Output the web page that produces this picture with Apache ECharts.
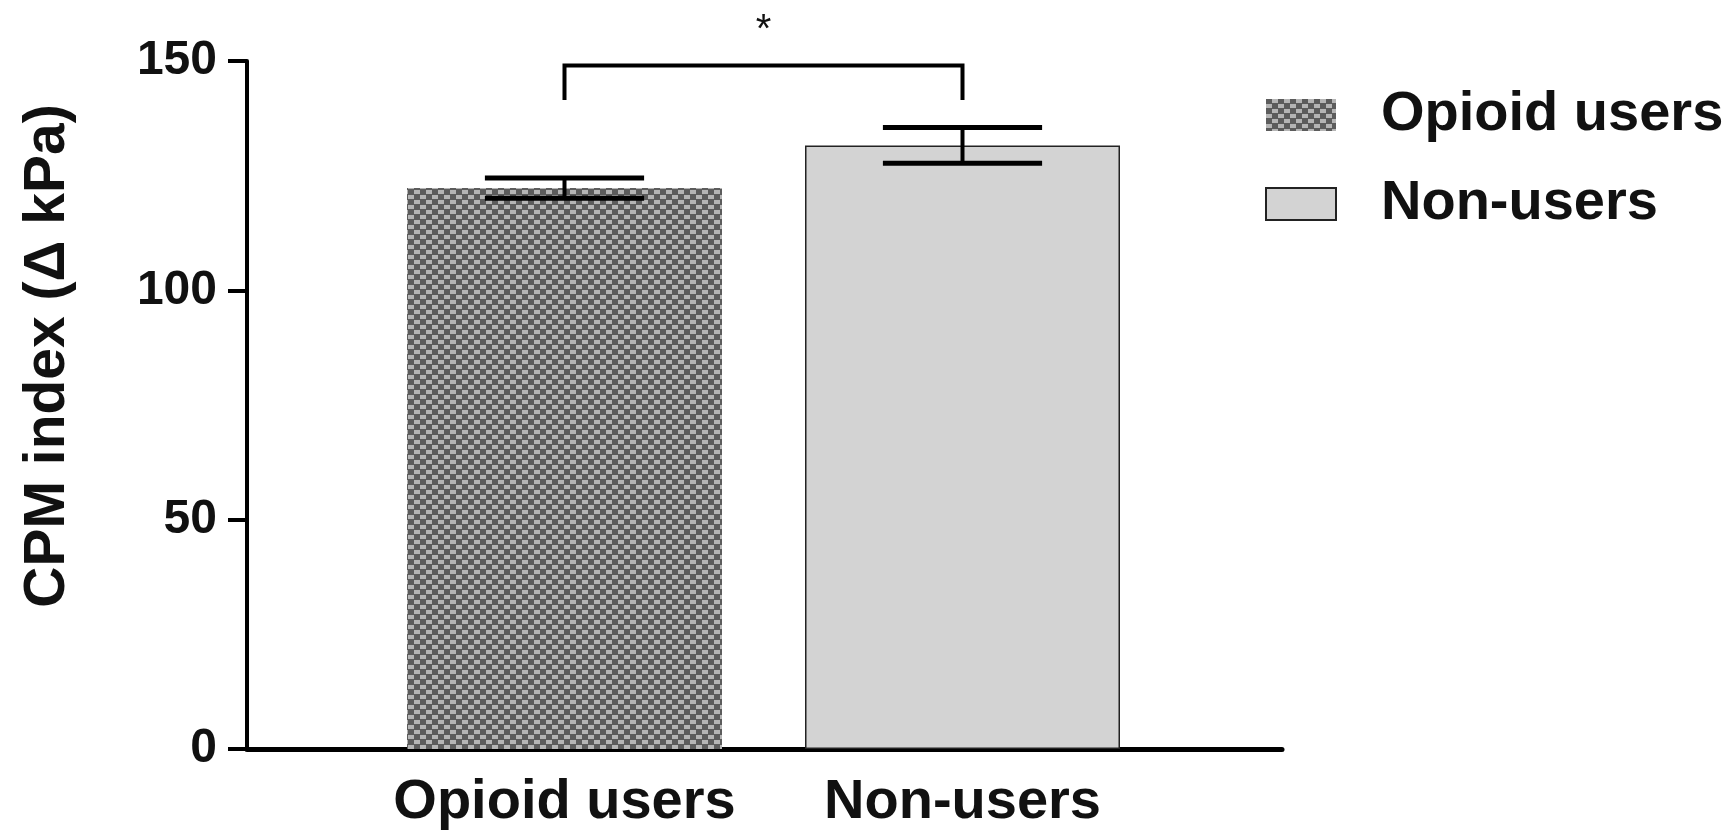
<!DOCTYPE html>
<html>
<head>
<meta charset="utf-8">
<script src="https://cdn.jsdelivr.net/npm/echarts@6/dist/echarts.min.js"></script>
<style>
  html, body { margin: 0; padding: 0; background: #ffffff; }
  #chart { width: 1736px; height: 835px; }
</style>
</head>
<body>
<div id="chart"></div>
<script>
// data
const categories = ['Opioid users', 'Non-users'];
const meanValues = [122.3, 131.6];
const semValues = [2.2, 3.9];
const yTicks = [0, 50, 100, 150];
// significance bracket: [top level, leg bottom], star above it
const bracketLevels = [149, 141.5];
const starLevel = 156.5;
const starText = '*';

const FONT = "'Liberation Sans', Arial, Helvetica, sans-serif";

const chart = echarts.init(document.getElementById('chart'));

// checker pattern for the opioid bar (grey basket weave)
const weave = {
  symbol: 'rect',
  symbolSize: 1,
  color: 'rgba(185,185,185,0.95)',
  dashArrayX: [[6, 6], [0, 6, 6, 0]],
  dashArrayY: [4, 1]
};

const option = {
  backgroundColor: '#ffffff',
  animation: false,
  legend: {
    orient: 'vertical',
    left: 1260,
    top: 82,
    itemWidth: 70,
    itemHeight: 32,
    itemGap: 33,
    icon: 'rect',
    data: categories,
    textStyle: {
      fontFamily: FONT,
      fontWeight: 'bold',
      fontSize: 56,
      lineHeight: 52,
      color: '#111',
      padding: [0, 0, 0, 40]
    }
  },
  grid: [
    // frame with the visible axes
    { left: 247, right: 454, top: 61, bottom: 86 },
    // grid holding the bars
    { left: 365.5, right: 574.5, top: 61, bottom: 86 }
  ],
  xAxis: [
    {
      gridIndex: 0,
      type: 'value',
      min: 0,
      max: 1,
      axisLine: { show: true, lineStyle: { color: '#000', width: 5 } },
      axisTick: { show: false },
      axisLabel: { show: false },
      splitLine: { show: false }
    },
    {
      gridIndex: 1,
      type: 'category',
      data: categories,
      axisLine: { show: false },
      axisTick: { show: false },
      axisLabel: {
        interval: 0,
        margin: 26,
        fontFamily: FONT,
        fontWeight: 'bold',
        fontSize: 56,
        color: '#111'
      }
    }
  ],
  yAxis: [
    {
      gridIndex: 0,
      type: 'value',
      min: yTicks[0],
      max: yTicks[yTicks.length - 1],
      interval: yTicks[1] - yTicks[0],
      name: 'CPM index (\u0394 kPa)',
      nameLocation: 'middle',
      nameRotate: 90,
      nameGap: 170,
      nameTextStyle: {
        fontFamily: FONT,
        fontWeight: 'bold',
        fontSize: 57,
        color: '#111',
        padding: [0, 0, 0, 98]
      },
      axisLine: { show: true, lineStyle: { color: '#000', width: 4 } },
      axisTick: { show: true, inside: false, length: 19, lineStyle: { color: '#000', width: 4 } },
      axisLabel: {
        margin: 30,
        fontFamily: FONT,
        fontWeight: 'bold',
        fontSize: 48,
        color: '#111'
      },
      splitLine: { show: false }
    },
    {
      gridIndex: 1,
      type: 'value',
      min: yTicks[0],
      max: yTicks[yTicks.length - 1],
      show: false
    }
  ],
  series: [
    {
      name: categories[0],
      type: 'bar',
      xAxisIndex: 1,
      yAxisIndex: 1,
      barWidth: 315,
      barGap: '-100%',
      data: [meanValues[0], '-'],
      itemStyle: {
        color: '#5c5c5c',
        borderWidth: 0,
        decal: weave
      }
    },
    {
      name: categories[1],
      type: 'bar',
      xAxisIndex: 1,
      yAxisIndex: 1,
      barWidth: 315,
      barGap: '-100%',
      data: ['-', meanValues[1]],
      itemStyle: {
        color: '#d3d3d3',
        borderColor: '#222',
        borderWidth: 1.5
      }
    },
    {
      // SEM error bars
      type: 'custom',
      xAxisIndex: 1,
      yAxisIndex: 1,
      silent: true,
      data: categories.map((c, i) => [i, meanValues[i], semValues[i]]),
      renderItem: function (params, api) {
        const x = api.value(0);
        const m = api.value(1);
        const s = api.value(2);
        const hi = api.coord([x, m + s]);
        const lo = api.coord([x, m - s]);
        const half = api.size([1, 0])[0] * 0.2;
        const st = { stroke: '#000', lineWidth: 5 };
        return {
          type: 'group',
          children: [
            { type: 'line', shape: { x1: hi[0], y1: hi[1], x2: lo[0], y2: lo[1] }, style: { stroke: '#000', lineWidth: 4 } },
            { type: 'line', shape: { x1: hi[0] - half, y1: hi[1], x2: hi[0] + half, y2: hi[1] }, style: st },
            { type: 'line', shape: { x1: lo[0] - half, y1: lo[1], x2: lo[0] + half, y2: lo[1] }, style: st }
          ]
        };
      },
      z: 5
    },
    {
      // significance bracket with star
      type: 'custom',
      xAxisIndex: 1,
      yAxisIndex: 1,
      silent: true,
      clip: false,
      data: [[0, 1, bracketLevels[0], bracketLevels[1], starLevel]],
      renderItem: function (params, api) {
        const topL = api.coord([api.value(0), api.value(2)]);
        const topR = api.coord([api.value(1), api.value(2)]);
        const legY = api.coord([api.value(0), api.value(3)])[1];
        const starY = api.coord([api.value(0), api.value(4)])[1];
        const midX = (topL[0] + topR[0]) / 2;
        return {
          type: 'group',
          children: [
            {
              type: 'polyline',
              shape: { points: [[topL[0], legY], topL, topR, [topR[0], legY]] },
              style: { stroke: '#000', lineWidth: 4, fill: 'none' }
            },
            {
              type: 'text',
              x: midX,
              y: starY,
              style: {
                text: starText,
                fontFamily: FONT,
                fontSize: 40,
                fill: '#111',
                align: 'center',
                verticalAlign: 'middle'
              }
            }
          ]
        };
      },
      z: 5
    }
  ]
};

chart.setOption(option);
window.addEventListener('resize', () => chart.resize());
</script>
</body>
</html>
